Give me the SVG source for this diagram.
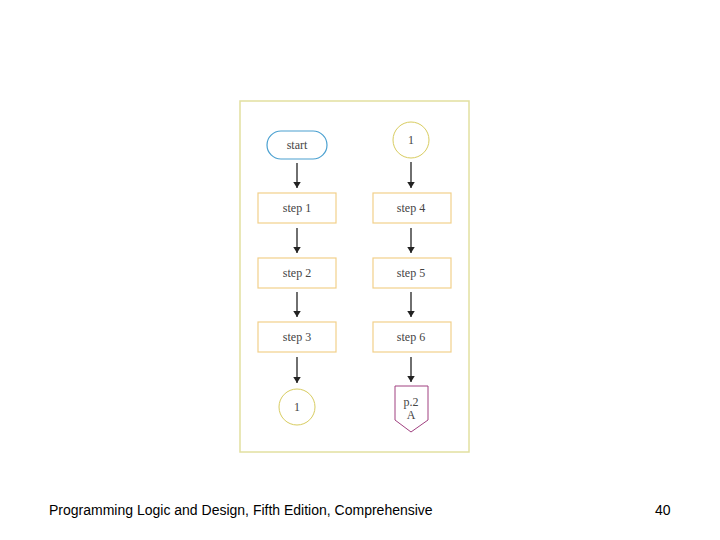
<svg xmlns="http://www.w3.org/2000/svg" width="720" height="540" viewBox="0 0 720 540">
<style>
.box{fill:#fff;stroke:#f2d08a;stroke-width:1.2}
.lbl{font-family:"Liberation Serif",serif;font-size:12px;fill:#444;text-anchor:middle}
.edge{stroke:#222;stroke-width:1.3;fill:none;marker-end:url(#ah)}
.foot{font-family:"Liberation Sans",Arial,sans-serif;font-size:14px;fill:#000}
</style>
<defs>
<marker id="ah" viewBox="0 0 8 10" refX="8" refY="5" markerWidth="6" markerHeight="8" markerUnits="userSpaceOnUse" orient="auto">
<path d="M0,0 L8,5 L0,10 z" fill="#222"/>
</marker>
</defs>
<rect x="240" y="101" width="229" height="351" fill="#fff" stroke="#e2e0a0" stroke-width="1.5"/>
<g id="start"><rect x="267" y="131" width="60" height="28" rx="14" fill="#fff" stroke="#4aa0d0" stroke-width="1.2"/><text class="lbl" x="297" y="149">start</text></g>
<g id="conn1"><circle cx="411" cy="140" r="18" fill="#fff" stroke="#d8cc60" stroke-width="1"/><text class="lbl" x="411" y="144">1</text></g>
<g id="step1"><rect class="box" x="258" y="193" width="78" height="30"/><text class="lbl" x="297" y="212">step 1</text></g>
<g id="step2"><rect class="box" x="258" y="258" width="78" height="30"/><text class="lbl" x="297" y="277">step 2</text></g>
<g id="step3"><rect class="box" x="258" y="322" width="78" height="30"/><text class="lbl" x="297" y="341">step 3</text></g>
<g id="step4"><rect class="box" x="373" y="193" width="78" height="30"/><text class="lbl" x="411" y="212">step 4</text></g>
<g id="step5"><rect class="box" x="373" y="258" width="78" height="30"/><text class="lbl" x="411" y="277">step 5</text></g>
<g id="step6"><rect class="box" x="373" y="322" width="78" height="30"/><text class="lbl" x="411" y="341">step 6</text></g>
<g id="conn2"><circle cx="297" cy="407" r="18" fill="#fff" stroke="#d8cc60" stroke-width="1"/><text class="lbl" x="297" y="411">1</text></g>
<g id="offpage"><path d="M395,386 L428,386 L428,420 L411,432 L395,420 Z" fill="#fff" stroke="#a04080" stroke-width="1"/><text class="lbl" x="411" y="406">p.2</text><text class="lbl" x="411" y="419">A</text></g>
<g id="edges">
<line class="edge" x1="297" y1="163" x2="297" y2="188"/>
<line class="edge" x1="297" y1="228" x2="297" y2="253"/>
<line class="edge" x1="297" y1="292" x2="297" y2="317"/>
<line class="edge" x1="297" y1="357" x2="297" y2="383"/>
<line class="edge" x1="411" y1="162" x2="411" y2="188"/>
<line class="edge" x1="411" y1="228" x2="411" y2="253"/>
<line class="edge" x1="411" y1="292" x2="411" y2="317"/>
<line class="edge" x1="411" y1="357" x2="411" y2="382"/>
</g>
<text class="foot" x="49" y="515">Programming Logic and Design, Fifth Edition, Comprehensive</text>
<text class="foot" x="655" y="515">40</text>
</svg>
